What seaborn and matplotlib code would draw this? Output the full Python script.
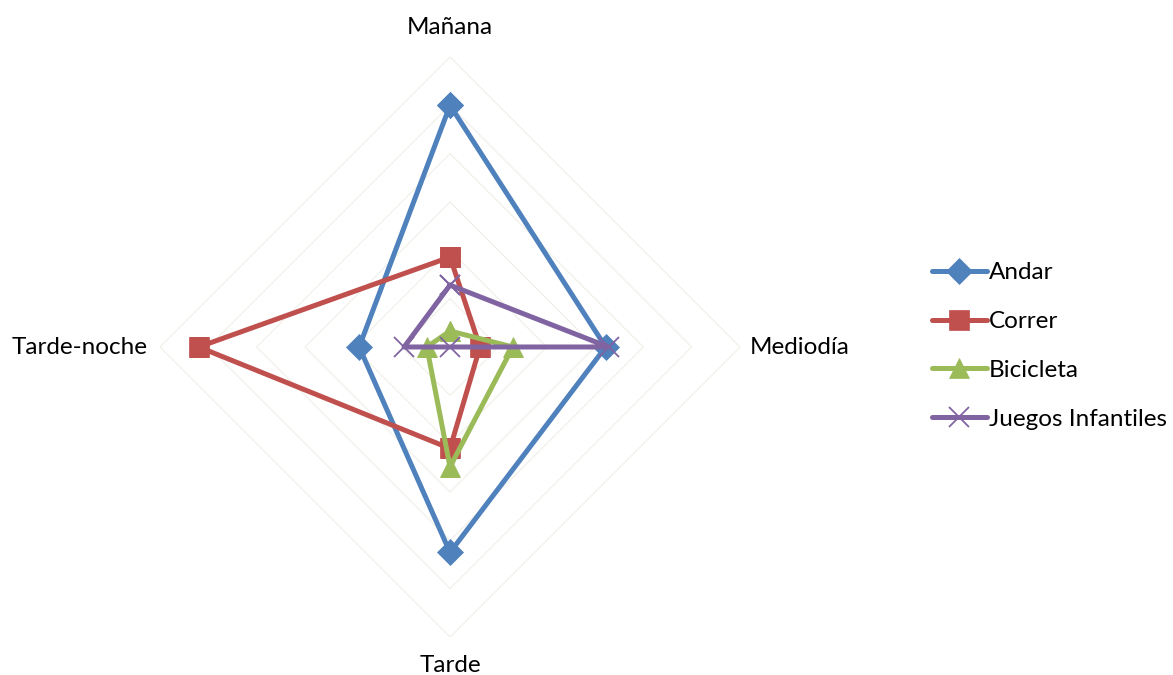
import numpy as np
import pandas as pd
import matplotlib
matplotlib.use("Agg")
import matplotlib.pyplot as plt
import seaborn as sns

# Time-of-day categories (clockwise from the top) and activity values
categories = ["Mañana", "Mediodía", "Tarde", "Tarde-noche"]
andar = [5.0, 3.22, 4.25, 1.88]
correr = [1.86, 0.62, 2.1, 5.2]
bicicleta = [0.33, 1.3, 2.48, 0.48]
juegos = [1.28, 3.28, 0.0, 0.95]
series_names = ["Andar", "Correr", "Bicicleta", "Juegos Infantiles"]
ring_levels = [1, 2, 3, 4, 5, 6]

series_values = [andar, correr, bicicleta, juegos]
colors = ["#4F81BD", "#C0504D", "#9BBB59", "#8064A2"]
markers = ["D", "s", "^", "x"]
marker_sizes = [13, 14, 14, 14]

sns.set_theme(style="white")
plt.rcParams["font.family"] = ["Lato", "DejaVu Sans"]
plt.rcParams["text.color"] = "black"

fig = plt.figure(figsize=(11.73, 6.75), dpi=100)
ax = fig.add_axes([0.1364, 0.0563, 0.4945, 0.8593], projection="polar")
ax.set_theta_zero_location("N")
ax.set_theta_direction(-1)

angles = np.linspace(0, 2 * np.pi, len(categories), endpoint=False)
closed_angles = np.append(angles, 2 * np.pi)

# Diamond-shaped grid rings
for lvl in ring_levels:
    ax.plot(closed_angles, [lvl] * len(closed_angles), color="#F0EFE8",
            lw=0.8, zorder=1)

handles = []
for name, vals, col, mk, ms in zip(series_names, series_values, colors,
                                   markers, marker_sizes):
    df = pd.DataFrame({"theta": closed_angles, "r": vals + vals[:1]})
    sns.lineplot(data=df, x="theta", y="r", ax=ax, color=col, lw=3.6,
                 marker=mk, markersize=ms, markeredgecolor=col,
                 markerfacecolor=col,
                 markeredgewidth=1.3 if mk == "x" else 0.5,
                 sort=False, estimator=None, zorder=3)
    handles.append(ax.lines[-1])

ax.set_ylim(0, 6)
ax.set_xlabel("")
ax.set_ylabel("")
ax.grid(False)
ax.set_xticks([])
ax.set_yticks([])
ax.spines["polar"].set_visible(False)
ax.set_facecolor("none")

# Category labels around the chart
lab_kw = dict(fontsize=17.5, color="black")
fig.text(450 / 1173, 1 - 27 / 675, categories[0], ha="center", va="center", **lab_kw)
fig.text(750 / 1173, 1 - 347 / 675, categories[1], ha="left", va="center", **lab_kw)
fig.text(450 / 1173, 1 - 665 / 675, categories[2], ha="center", va="center", **lab_kw)
fig.text(148 / 1173, 1 - 347 / 675, categories[3], ha="right", va="center", **lab_kw)

fig.legend(handles, series_names, loc="center left",
           bbox_to_anchor=(932 / 1173, 1 - 346 / 675), frameon=False,
           fontsize=17.5, handlelength=2.25, handletextpad=0.1,
           labelspacing=1.15, numpoints=1, borderaxespad=0, borderpad=0,
           labelcolor="black")

fig.savefig("out.png", dpi=100)
